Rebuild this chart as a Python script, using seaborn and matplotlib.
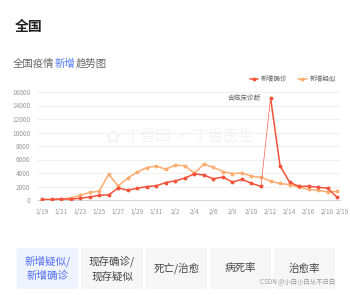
import matplotlib
matplotlib.use("Agg")
import matplotlib.pyplot as plt
import matplotlib.transforms as mtrans
import seaborn as sns
import pandas as pd
from matplotlib.patches import FancyBboxPatch
from matplotlib.lines import Line2D

dates = ['1/19', '1/20', '1/21', '1/22', '1/23', '1/24', '1/25', '1/26', '1/27', '1/28',
         '1/29', '1/30', '1/31', '2/1', '2/2', '2/3', '2/4', '2/5', '2/6', '2/7', '2/8',
         '2/9', '2/10', '2/11', '2/12', '2/13', '2/14', '2/15', '2/16', '2/17', '2/18', '2/19']
confirmed = [77, 77, 149, 131, 259, 444, 688, 769, 1771, 1459, 1737, 1982, 2102, 2590, 2829,
             3235, 3887, 3694, 3143, 3399, 2656, 3062, 2478, 2015, 15152, 5090, 2641, 2009,
             2048, 1886, 1749, 394]
suspected = [30, 60, 130, 300, 680, 1118, 1309, 3806, 2077, 3248, 4148, 4812, 5019, 4562, 5173,
             5072, 3971, 5328, 4833, 4214, 3916, 4008, 3536, 3342, 2807, 2450, 2277, 1918,
             1563, 1432, 1185, 1277]
tick_dates = ['1/19', '1/21', '1/23', '1/25', '1/27', '1/29', '1/31', '2/2', '2/4', '2/6',
              '2/8', '2/10', '2/12', '2/14', '2/16', '2/18', '2/19']
yticks = [0, 2000, 4000, 6000, 8000, 10000, 12000, 14000, 16000]
series_names = ['新增确诊', '新增疑似']
tabs = ['新增疑似/\n新增确诊', '现存确诊/\n现存疑似', '死亡/治愈', '病死率', '治愈率']

sns.set_theme(style="white")
plt.rcParams['font.family'] = ['Noto Sans CJK SC', 'DejaVu Sans']

W, H = 350, 295
fig = plt.figure(figsize=(W / 100, H / 100), dpi=100)
fig.patch.set_facecolor('white')

def fx(px):
    return px / W

def fy(py):
    return 1 - py / H

RED = '#f4513a'
ORANGE = '#fdac70'

df = pd.DataFrame({'idx': range(len(dates)), 'date': dates,
                   'confirmed': confirmed, 'suspected': suspected})

ax = fig.add_axes([fx(37), fy(200), fx(340) - fx(37), fy(92) - fy(200)])
ax.set_facecolor('white')

# watermark
fig.text(fx(113), fy(137), '✿', color='#f5f5f5', fontsize=14, ha='center', va='center',
         family=['DejaVu Sans'])
fig.text(fx(125), fy(137), '丁香园 · 丁香医生', color='#f3f3f3', fontsize=11,
         ha='left', va='center', style='italic')

mk = dict(marker='o', markersize=2.8, markeredgewidth=0)
sns.lineplot(data=df, x='idx', y='suspected', ax=ax, color=ORANGE, linewidth=1.1,
             zorder=3, **mk)
sns.lineplot(data=df.iloc[:24], x='idx', y='confirmed', ax=ax, color=RED, linewidth=1.1,
             zorder=4, **mk)
sns.lineplot(data=df.iloc[23:25], x='idx', y='confirmed', ax=ax, color=RED, linewidth=0.45,
             zorder=4)
sns.lineplot(data=df.iloc[24:], x='idx', y='confirmed', ax=ax, color=RED, linewidth=1.1,
             zorder=4, **mk)

ax.set_xlim(-0.53, 31.3)
ax.set_ylim(0, 16000)
ax.set_yticks(yticks)
ax.set_yticklabels([str(v) for v in yticks])
tick_idx = [dates.index(d) for d in tick_dates]
ax.set_xticks(tick_idx)
ax.set_xticklabels(tick_dates)
ax.tick_params(axis='y', length=0, pad=5, labelsize=4.6, labelcolor='#999999')
ax.tick_params(axis='x', length=2, width=0.5, color='#cccccc', pad=4,
               labelsize=4.6, labelcolor='#999999')
last = ax.get_xticklabels()[-1]
last.set_transform(last.get_transform() + mtrans.ScaledTranslation(5 / 100, 0, fig.dpi_scale_trans))
ax.set_xlabel('')
ax.set_ylabel('')
ax.grid(axis='y', color='#eeeeee', linewidth=0.6)
ax.grid(axis='x', visible=False)
for s in ['top', 'right', 'left']:
    ax.spines[s].set_visible(False)
ax.spines['bottom'].set_color('#cccccc')
ax.spines['bottom'].set_linewidth(0.6)

ax.annotate('含临床诊断', xy=(24, 15152), xytext=(-7, 0), textcoords='offset points',
            ha='right', va='center', fontsize=4.8, color='#666666')

handles = [Line2D([0], [0], color=RED, lw=1.1, **mk),
           Line2D([0], [0], color=ORANGE, lw=1.1, **mk)]
fig.legend(handles, series_names, loc='center right', bbox_to_anchor=(fx(342), fy(79)),
           ncol=2, frameon=False, fontsize=4.8, handlelength=1.3, handletextpad=0.4,
           columnspacing=1.6, labelcolor='#666666')

# titles
fig.text(fx(15), fy(27), '全国', fontsize=10, fontweight='bold', color='#222222',
         ha='left', va='center')
renderer = fig.canvas.get_renderer()
xpos = fx(13)
for part, col in [('全国疫情', '#666666'), ('新增', '#4f7cf6'), ('趋势图', '#666666')]:
    t = fig.text(xpos, fy(64), part, fontsize=7.5, color=col, ha='left', va='center')
    bb = t.get_window_extent(renderer=renderer)
    xpos = bb.x1 / fig.bbox.width

# tab buttons
boxes = [(16.5, 78), (81, 143), (145.5, 207), (210, 271), (274, 335)]
for i, ((x0, x1), label) in enumerate(zip(boxes, tabs)):
    bg = '#eef3ff' if i == 0 else '#f6f6f6'
    tc = '#4f6ef0' if i == 0 else '#444444'
    p = FancyBboxPatch((fx(x0), fy(289)), fx(x1) - fx(x0), fy(248) - fy(289),
                       boxstyle='round,pad=0,rounding_size=0.006', transform=fig.transFigure,
                       facecolor=bg, edgecolor='none')
    fig.patches.append(p)
    fig.text(fx((x0 + x1) / 2), fy(268.5), label, fontsize=7.6, color=tc, ha='center',
             va='center', linespacing=1.45)

fig.text(fx(335), fy(282), 'CSDN @小白小白从不日白', fontsize=4.6, color='#999999',
         ha='right', va='center')

fig.savefig('out.png', dpi=100, facecolor='white')
